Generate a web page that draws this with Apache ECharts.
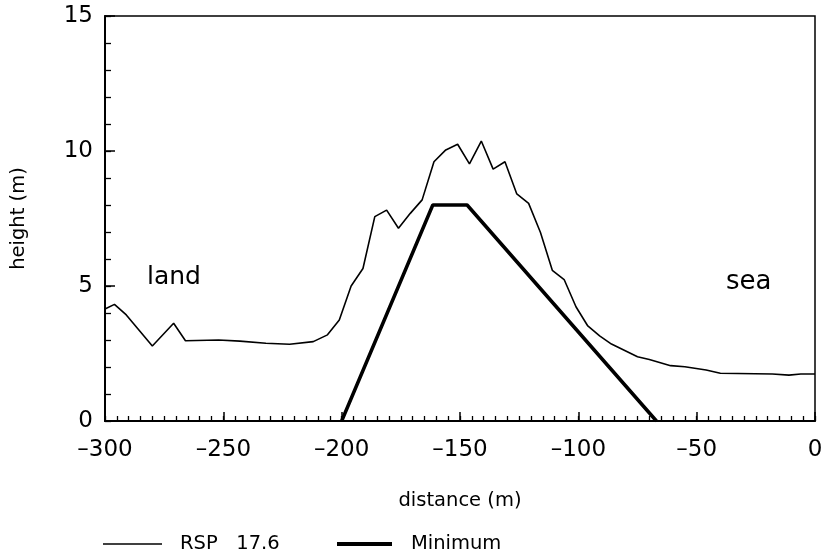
<!DOCTYPE html>
<html><head><meta charset="utf-8">
<script src="https://cdn.jsdelivr.net/npm/echarts@6/dist/echarts.min.js"></script>
<style>html,body{margin:0;padding:0;background:#fff}#c{width:834px;height:554px}</style>
</head><body><div id="c"></div>
<script>
const rspX = [-300,-296,-291,-280,-271,-266,-252,-243,-232,-222,-212,-206,-201,-196,-191,-186,-181,-176,-171,-166,-161,-156,-151,-146,-141,-136,-131,-126,-121,-116,-111,-106,-101,-96,-91,-86,-75,-70,-61,-55,-46,-40,-18,-11,-6,0];
const rspY = [4.15,4.32,3.93,2.78,3.62,2.97,3.00,2.96,2.88,2.84,2.94,3.19,3.74,5.00,5.65,7.57,7.81,7.14,7.69,8.19,9.60,10.04,10.25,9.52,10.37,9.33,9.60,8.41,8.06,6.98,5.58,5.24,4.23,3.52,3.15,2.85,2.38,2.28,2.05,2.01,1.89,1.77,1.74,1.70,1.74,1.74];
const minX = [-200,-161.5,-147,-67];
const minY = [0,8,8,0];
const xTicks = [-300,-250,-200,-150,-100,-50,0];
const yTicks = [0,5,10,15];
const seriesNames = ['RSP 17.6','Minimum'];

const font = '"DejaVu Sans", Verdana, sans-serif';
const blk = '#000';
const chart = echarts.init(document.getElementById('c'));
const hidden = {axisLine:{show:false,onZero:false},axisLabel:{show:false},splitLine:{show:false}};
chart.setOption({
  animation:false,
  backgroundColor:'#fff',
  grid:{left:105,right:19,top:16,bottom:133,show:true,borderColor:blk,borderWidth:1.5,backgroundColor:'transparent'},
  xAxis:[
    {type:'value',min:-300,max:0,interval:50,position:'bottom',
     name:'distance (m)',nameLocation:'middle',nameGap:70,
     nameTextStyle:{fontFamily:font,fontSize:19.5,color:blk},
     axisLine:{show:true,onZero:false,lineStyle:{color:blk,width:2}},
     axisTick:{show:true,inside:true,length:9,lineStyle:{color:blk,width:1.5}},
     axisLabel:{fontFamily:font,fontSize:23,color:blk,margin:18,
       formatter:v=>xTicks.includes(v)?(v<0?'\u2013'+Math.abs(v):String(v)):''},
     splitLine:{show:false}},
    Object.assign({type:'value',min:-300,max:0,interval:5,position:'bottom',
     axisTick:{show:true,inside:true,length:5,lineStyle:{color:blk,width:1.3}}},hidden)
  ],
  yAxis:[
    {type:'value',min:0,max:15,interval:5,position:'left',
     name:'height (m)',nameLocation:'middle',nameGap:76,
     nameTextStyle:{fontFamily:font,fontSize:19.5,color:blk},
     axisLine:{show:true,onZero:false,lineStyle:{color:blk,width:2}},
     axisTick:{show:true,inside:true,length:10,lineStyle:{color:blk,width:1.5}},
     axisLabel:{fontFamily:font,fontSize:23,color:blk,margin:12,
       formatter:v=>yTicks.includes(v)?String(v):''},
     splitLine:{show:false}},
    Object.assign({type:'value',min:0,max:15,interval:1,position:'left',
     axisTick:{show:true,inside:true,length:6,lineStyle:{color:blk,width:1.3}}},hidden)
  ],
  legend:[
    {left:98,top:529,itemWidth:59,itemHeight:1.6,icon:'rect',data:[seriesNames[0]],
     formatter:n=>n.replace(' ','   '),
     textStyle:{fontFamily:font,fontSize:19.5,color:blk,padding:[0,0,0,13]}},
    {left:332,top:529,itemWidth:55,itemHeight:4,icon:'rect',data:[seriesNames[1]],
     textStyle:{fontFamily:font,fontSize:19.5,color:blk,padding:[0,0,0,14]}}
  ],
  series:[
    {name:seriesNames[0],type:'line',symbol:'none',xAxisIndex:0,yAxisIndex:0,
     data:rspX.map((x,i)=>[x,rspY[i]]),
     lineStyle:{color:blk,width:1.6},itemStyle:{color:blk}},
    {name:seriesNames[1],type:'line',symbol:'none',xAxisIndex:0,yAxisIndex:0,
     data:minX.map((x,i)=>[x,minY[i]]),
     lineStyle:{color:blk,width:3.5},itemStyle:{color:blk}}
  ],
  graphic:[
    {type:'text',left:147,top:265,style:{text:'land',font:'25px '+font,fill:blk}},
    {type:'text',left:726,top:269,style:{text:'sea',font:'26px '+font,fill:blk}}
  ]
});
</script></body></html>
